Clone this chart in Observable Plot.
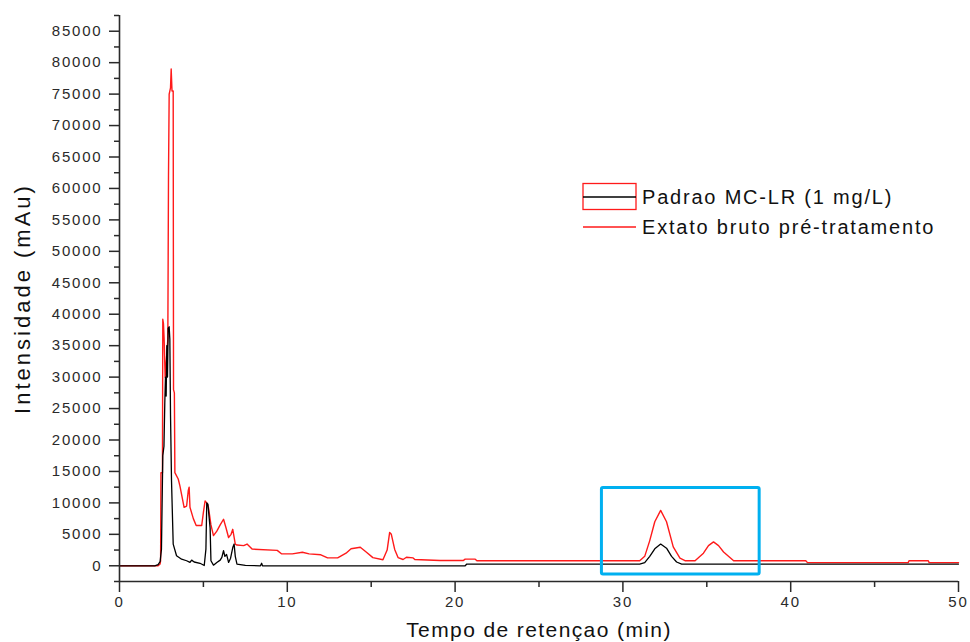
<!DOCTYPE html>
<html>
<head>
<meta charset="utf-8">
<script src="https://cdn.jsdelivr.net/npm/d3@7"></script>
<script src="https://cdn.jsdelivr.net/npm/@observablehq/plot@0.6"></script>
<style>
  html, body { margin: 0; padding: 0; background: #fff; overflow: hidden; }
  #wrap { position: relative; width: 970px; height: 642px; font-family: "Liberation Sans", Arial, sans-serif; }
  #legend { position: absolute; left: 0; top: 0; width: 970px; height: 642px; pointer-events: none; }
</style>
</head>
<body>
<div id="wrap"><div id="chart"></div><svg id="legend" width="970" height="642"></svg></div>
<script>
// ---- data ----
const xDomain = [0, 50];
const yDomain = [-2500, 87500];
const xTicks = [0, 10, 20, 30, 40, 50];
const xMinorTicks = [5, 15, 25, 35, 45];
const yTicks = [0, 5000, 10000, 15000, 20000, 25000, 30000, 35000, 40000, 45000, 50000, 55000, 60000, 65000, 70000, 75000, 80000, 85000];
const yMinorTicks = [-2500, 2500, 7500, 12500, 17500, 22500, 27500, 32500, 37500, 42500, 47500, 52500, 57500, 62500, 67500, 72500, 77500, 82500, 87500];
const xTitle = "Tempo de retençao (min)";
const yTitle = "Intensidade (mAu)";
const seriesNames = ["Padrao MC-LR (1 mg/L)", "Extato bruto pré-tratamento"];
const seriesColors = ["#000000", "#ff1a1a"];

// Padrao MC-LR (1 mg/L): [time (min), intensity (mAu)]
const padrao = [
  [0, 0], [2.1, 0], [2.3, 200], [2.42, 650], [2.5, 2600], [2.58, 17500], [2.65, 19000],
  [2.7, 26000], [2.74, 30000], [2.78, 27000], [2.82, 35000], [2.86, 30000], [2.9, 37800],
  [2.96, 38000], [3.0, 36000], [3.04, 24000], [3.1, 13500], [3.2, 3450], [3.4, 1600],
  [3.7, 1050], [4.0, 800], [4.2, 530], [4.3, 900], [4.45, 600], [4.8, 400], [5.05, 50],
  [5.15, 2650], [5.2, 10000], [5.27, 9800], [5.33, 8000], [5.4, 6000], [5.45, 800],
  [5.6, 100], [5.8, 530], [6.0, 900], [6.1, 1330], [6.2, 2400], [6.28, 1500], [6.38, 1800],
  [6.5, 530], [6.62, 1200], [6.75, 2900], [6.83, 3450], [6.9, 1500], [7.0, 270], [7.5, 50],
  [8.4, 0], [8.47, 400], [8.52, 0], [20.6, 0], [20.7, 270], [31.0, 270], [31.3, 500],
  [31.6, 1500], [31.9, 2700], [32.25, 3450], [32.6, 2800], [32.9, 1500], [33.2, 600],
  [33.5, 270], [50, 270]
];

// Extato bruto pré-tratamento: [time (min), intensity (mAu)]
const extrato = [
  [0, 0], [2.3, 0], [2.42, 300], [2.45, 800], [2.47, 14800], [2.56, 14800], [2.58, 39200],
  [2.62, 38500], [2.66, 36000], [2.72, 30000], [2.8, 33000], [2.88, 36000], [2.92, 62000],
  [2.96, 75000], [3.04, 76000], [3.08, 79000], [3.13, 75500], [3.2, 75500], [3.22, 28000],
  [3.27, 27500], [3.3, 14800], [3.5, 13800], [3.6, 12700], [3.85, 9300], [4.0, 9500],
  [4.1, 12000], [4.15, 12500], [4.2, 9300], [4.4, 7500], [4.57, 6400], [4.9, 6400],
  [5.0, 8500], [5.1, 10300], [5.2, 10000], [5.3, 9300], [5.45, 6500], [5.6, 4800],
  [5.8, 5500], [6.0, 6500], [6.2, 7400], [6.35, 6000], [6.5, 4500], [6.65, 5000],
  [6.75, 5800], [6.9, 3450], [7.0, 3300], [7.4, 3200], [7.6, 3450], [7.9, 2650],
  [9.4, 2450], [9.65, 1900], [10.3, 1900], [10.9, 2150], [11.3, 1900], [12.0, 1750],
  [12.4, 1250], [13.0, 1250], [13.5, 2000], [13.8, 2700], [14.35, 2950], [14.7, 2200],
  [15.1, 1300], [15.7, 950], [15.95, 2500], [16.1, 5300], [16.2, 5000], [16.4, 2600],
  [16.6, 1300], [16.9, 1000], [17.1, 1350], [17.5, 1250], [17.6, 1000], [19.1, 850],
  [20.5, 850], [20.6, 1050], [21.2, 1050], [21.3, 800], [31.0, 800], [31.3, 1500],
  [31.6, 4000], [31.9, 7000], [32.25, 8800], [32.6, 7000], [33.0, 3000], [33.4, 1200],
  [33.7, 800], [34.3, 800], [34.8, 2000], [35.1, 3200], [35.4, 3800], [35.7, 3200],
  [36.0, 2200], [36.6, 800], [40.9, 800], [41.0, 500], [47.0, 500], [47.05, 800],
  [48.2, 800], [48.25, 500], [50, 500]
];

// highlighted region (blue box)
const highlightTime = [28.75, 38.15];
const highlightIntensity = [-1400, 12350];

// ---- chart ----
const axisColor = "#2a2a2a";
const highlight = [{x1: highlightTime[0], x2: highlightTime[1], y1: highlightIntensity[0], y2: highlightIntensity[1]}];

const chart = Plot.plot({
  width: 970,
  height: 642,
  marginLeft: 119,
  marginRight: 12,
  marginTop: 15,
  marginBottom: 61,
  style: {fontFamily: '"Liberation Sans", Arial, sans-serif', color: axisColor, background: "#fff"},
  x: {domain: xDomain, label: null},
  y: {domain: yDomain, label: null},
  marks: [
    Plot.line(extrato, {x: d => d[0], y: d => d[1], stroke: seriesColors[1], strokeWidth: 1.4}),
    Plot.line(padrao, {x: d => d[0], y: d => d[1], stroke: seriesColors[0], strokeWidth: 1.3}),
    Plot.rect(highlight, {x1: "x1", x2: "x2", y1: "y1", y2: "y2", fill: "none", stroke: "#00b0f0", strokeWidth: 3, rx: 1.5}),
    Plot.axisX(xTicks, {tickSize: 11, tickPadding: 4, strokeWidth: 1.5, fontSize: 15, tickFormat: d => String(d), label: null}),
    Plot.axisX(xMinorTicks, {tickSize: 6, strokeWidth: 1.5, tickFormat: () => "", label: null}),
    Plot.axisY(yTicks, {tickSize: 10, tickPadding: 7, strokeWidth: 1.5, fontSize: 15, tickFormat: d => String(d), label: null}),
    Plot.axisY(yMinorTicks, {tickSize: 5, strokeWidth: 1.5, tickFormat: () => "", label: null}),
    Plot.ruleX([xDomain[0]], {stroke: axisColor, strokeWidth: 1.6}),
    Plot.ruleY([yDomain[0]], {stroke: axisColor, strokeWidth: 1.6}),
    Plot.text([xTitle], {text: d => d, frameAnchor: "bottom", textAnchor: "middle", lineAnchor: "middle", dy: 49, fontSize: 21, fill: "#111"}),
    Plot.text([yTitle], {text: d => d, frameAnchor: "left", textAnchor: "middle", lineAnchor: "middle", rotate: -90, dx: -97, fontSize: 22, fill: "#111"})
  ]
});
document.getElementById("chart").appendChild(chart);

// letter spacing similar to the original rendering
d3.select(chart).selectAll("text").each(function() {
  const t = this.textContent;
  if (t === xTitle) this.style.letterSpacing = "1.4px";
  else if (t === yTitle) this.style.letterSpacing = "3px";
  else this.style.letterSpacing = "1.8px";
});

// ---- legend ----
const lg = d3.select("#legend");
const rows = [
  {name: seriesNames[0], color: seriesColors[0], y: 197, box: true},
  {name: seriesNames[1], color: seriesColors[1], y: 227, box: false}
];
rows.forEach(r => {
  if (r.box) {
    lg.append("rect").attr("x", 583).attr("y", 183.5).attr("width", 53).attr("height", 26)
      .attr("fill", "none").attr("stroke", seriesColors[1]).attr("stroke-width", 1.3);
  }
  lg.append("line").attr("x1", 583).attr("x2", 636).attr("y1", r.y).attr("y2", r.y)
    .attr("stroke", r.color).attr("stroke-width", 1.3);
  lg.append("text").attr("x", 642).attr("y", r.y + 7)
    .attr("font-family", '"Liberation Sans", Arial, sans-serif').attr("font-size", 20)
    .attr("fill", "#111").style("letter-spacing", "1.8px").text(r.name);
});
</script>
</body>
</html>
